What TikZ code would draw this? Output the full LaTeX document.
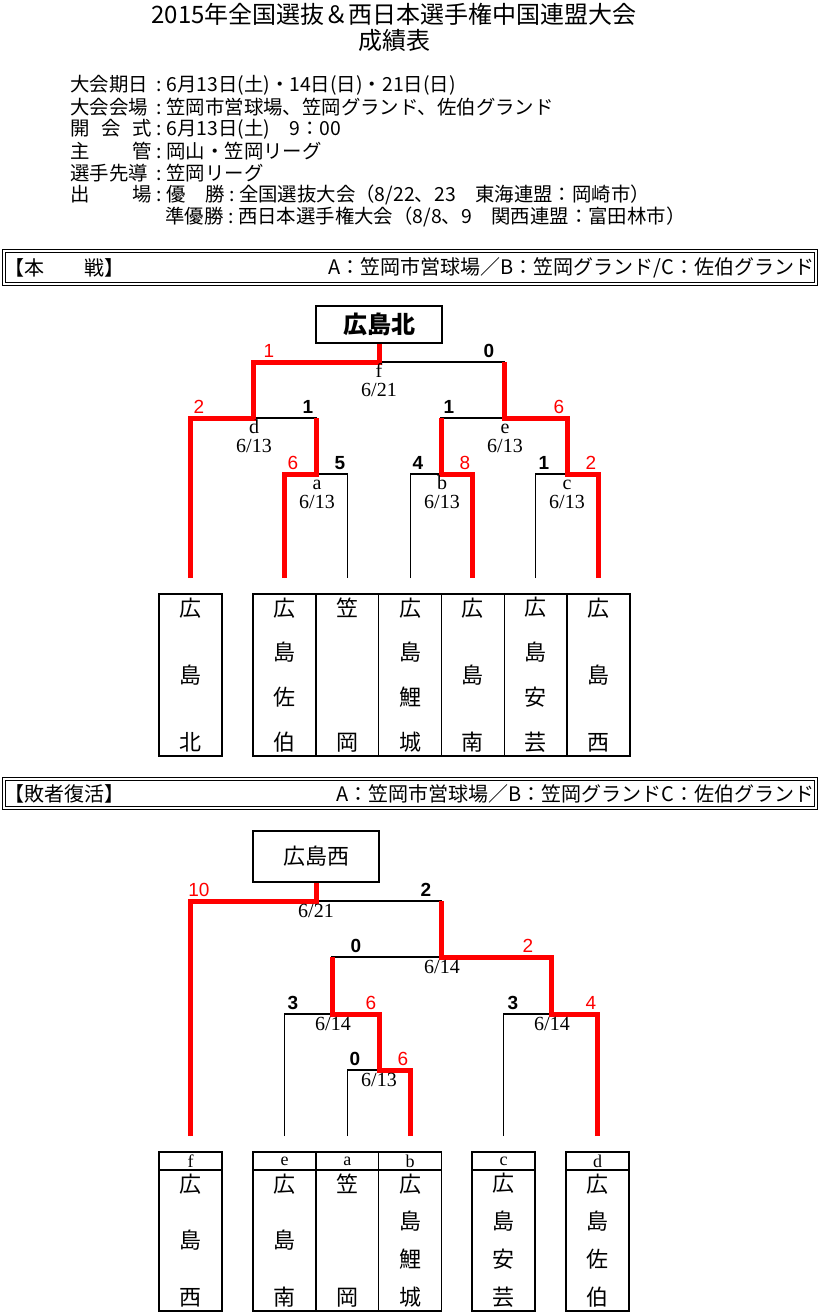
\documentclass[tikz,border=0pt]{standalone}
\usepackage{fontspec}
\setmainfont{Liberation Serif}
\setsansfont{Liberation Sans}
\newfontfamily\jp{Noto Sans CJK JP}
\usetikzlibrary{positioning}

\newcommand\lbl[1]{\makebox[4.2em][s]{#1}}
\newcommand\cln{\makebox[0.75em]{:}}
\newcommand\tnext{\par\vfill}
\newcommand\tate[2]{\parbox[c][#1][s]{1.2em}{\centering #2}}

\begin{document}
\begin{tikzpicture}[x=0.5pt,y=-0.5pt,
  title/.style={font=\jp\fontsize{12}{14}\selectfont,inner sep=0pt},
  info/.style={anchor=west,inner sep=0pt,font=\jp\fontsize{9.7}{12}\selectfont},
  bar/.style={draw,double,line width=0.7pt,double distance=0.6pt,minimum width=406pt,inner sep=0pt},
  bartext/.style={inner sep=0pt,font=\jp\fontsize{10}{12}\selectfont},
  champ box/.style={draw,line width=0.75pt,minimum width=63pt,font=\jp\fontsize{11}{13}\selectfont},
  team/.style={draw,line width=0.75pt,outer sep=0pt,inner sep=0pt,minimum width=31.4pt,font=\jp\fontsize{11}{13}\selectfont},
  head/.style={draw,line width=0.75pt,outer sep=0pt,inner sep=0pt,minimum width=31.4pt,minimum height=9pt,font=\fontsize{9}{10}\selectfont},
  bracket/.style={line width=0.6pt},
  win line/.style={red,line width=2.5pt},
  lose score/.style={anchor=base,inner sep=0pt,font=\sffamily\bfseries\fontsize{9.5}{11}\selectfont},
  win score/.style={anchor=base,inner sep=0pt,red,font=\sffamily\fontsize{9.5}{11}\selectfont},
  match label/.style={anchor=base,inner sep=0pt,font=\fontsize{10}{12}\selectfont}]

\useasboundingbox (0,0) rectangle (820,1314);

% heading
\node[title] (title) at (394,14) {2015年全国選抜＆西日本選手権中国連盟大会};
\node[title] (subtitle) at (394,40) {成績表};

\node[info] (l1) at (70,85) {\lbl{大会期日}\cln 6月13日(土)・14日(日)・21日(日)};
\node[info] (l2) at (70,107) {\lbl{大会会場}\cln 笠岡市営球場、笠岡グランド、佐伯グランド};
\node[info] (l3) at (70,129) {\lbl{開\hfill 会\hfill 式}\cln 6月13日(土)　9：00};
\node[info] (l4) at (70,151) {\lbl{主\hfill 管}\cln 岡山・笠岡リーグ};
\node[info] (l5) at (70,173) {\lbl{選手先導}\cln 笠岡リーグ};
\node[info] (l6) at (70,195) {\lbl{出\hfill 場}\cln\makebox[3em][s]{優\hfill 勝}\cln 全国選抜大会（8/22、23　東海連盟：岡崎市）};
\node[info] (l7) at (165,217) {\makebox[3em][s]{準優勝}\cln 西日本選手権大会（8/8、9　関西連盟：富田林市）};

% main tournament
\node[bar,minimum height=16.5pt] (honsen) at (410,267.5) {};
\node[bartext,anchor=west] (honsenL) at ([xshift=0.5pt]honsen.west) {【本　　戦】};
\node[bartext,anchor=east] (honsenR) at ([xshift=-1pt]honsen.east) {A：笠岡市営球場／B：笠岡グランド/C：佐伯グランド};

\node[champ box,minimum height=18.5pt,font=\jp\bfseries\fontsize{12}{14}\selectfont] (champ) at (379,324.5) {広島北};

\node[team,minimum height=81pt] (kita) at (190.5,675) {\tate{76.5pt}{広\tnext 島\tnext 北}};
\node[team,minimum height=81pt] (saeki) at (284.5,675) {\tate{76.5pt}{広\tnext 島\tnext 佐\tnext 伯}};
\node[team,minimum height=81pt,right=0pt of saeki] (kasaoka) {\tate{76.5pt}{笠\tnext 岡}};
\node[team,minimum height=81pt,right=0pt of kasaoka] (rijo) {\tate{76.5pt}{広\tnext 島\tnext 鯉\tnext 城}};
\node[team,minimum height=81pt,right=0pt of rijo] (minami) {\tate{76.5pt}{広\tnext 島\tnext 南}};
\node[team,minimum height=81pt,right=0pt of minami] (aki) {\tate{76.5pt}{広\tnext 島\tnext 安\tnext 芸}};
\node[team,minimum height=81pt,right=0pt of aki] (nishi) {\tate{76.5pt}{広\tnext 島\tnext 西}};

\foreach \t in {kita,saeki,kasaoka,rijo,minami,aki,nishi}
  \coordinate[above=8pt of \t] (\t T);

\coordinate (mf) at (379,362);
\coordinate (md) at (253,418);
\coordinate (me) at (504,418);
\coordinate (ma) at (316,474);
\coordinate (mb) at (441,474);
\coordinate (mc) at (567,474);

\draw[bracket] (kitaT) |- (md) -| (ma);
\draw[bracket] (saekiT) |- (ma) -| (kasaokaT);
\draw[bracket] (rijoT) |- (mb) -| (minamiT);
\draw[bracket] (akiT) |- (mc) -| (nishiT);
\draw[bracket] (mb) |- (me) -| (mc);
\draw[bracket] (md) |- (mf) -| (me);

\draw[win line] (kitaT) |- (md) |- (mf) -- (champ.south);
\draw[win line] (saekiT) |- (ma) -- (ma |- md);
\draw[win line] (minamiT) |- (mb) -- (mb |- me);
\draw[win line] (nishiT) |- (mc) |- (me) -- (me |- mf);

\foreach \x/\y/\s [count=\i] in {489/357.5/0,308/413.5/1,449/413.5/1,340/469.5/5,418/469.5/4,544/469.5/1}
  \node[lose score] (ls\i) at (\x,\y) {\s};
\foreach \x/\y/\s [count=\i] in {269/357.5/1,199/413.5/2,559/413.5/6,293/469.5/6,465/469.5/8,591/469.5/2}
  \node[win score] (ws\i) at (\x,\y) {\s};
\foreach \x/\y/\t [count=\i] in {379/377.5/f,379/396.5/{6/21},254/433.5/d,254/452.5/{6/13},505/433.5/e,505/452.5/{6/13},317/489.5/a,317/508.5/{6/13},442/489.5/b,442/508.5/{6/13},567/489.5/c,567/508.5/{6/13}}
  \node[match label] (ml\i) at (\x,\y) {\t};

% consolation round
\node[bar,minimum height=14.5pt] (haisha) at (410,793.5) {};
\node[bartext,anchor=west] (haishaL) at ([xshift=0.5pt]haisha.west) {【敗者復活】};
\node[bartext,anchor=east] (haishaR) at ([xshift=-1pt]haisha.east) {A：笠岡市営球場／B：笠岡グランドC：佐伯グランド};

\node[champ box,minimum height=25.5pt] (champ2) at (316,856.5) {広島西};

\node[head] (hf) at (190.5,1161) {f};
\node[head] (he) at (284.5,1161) {e};
\node[head,right=0pt of he] (ha) {a};
\node[head,right=0pt of ha] (hb) {b};
\node[head] (hc) at (503.5,1161) {c};
\node[head] (hd) at (597.5,1161) {d};
\node[team,minimum height=70.5pt,below=0pt of hf] (rnishi) {\tate{66pt}{広\tnext 島\tnext 西}};
\node[team,minimum height=70.5pt,below=0pt of he] (rminami) {\tate{66pt}{広\tnext 島\tnext 南}};
\node[team,minimum height=70.5pt,below=0pt of ha] (rkasaoka) {\tate{66pt}{笠\tnext 岡}};
\node[team,minimum height=70.5pt,below=0pt of hb] (rrijo) {\tate{66pt}{広\tnext 島\tnext 鯉\tnext 城}};
\node[team,minimum height=70.5pt,below=0pt of hc] (raki) {\tate{66pt}{広\tnext 島\tnext 安\tnext 芸}};
\node[team,minimum height=70.5pt,below=0pt of hd] (rsaeki) {\tate{66pt}{広\tnext 島\tnext 佐\tnext 伯}};

\foreach \h/\t in {hf/rnishi,he/rminami,ha/rkasaoka,hb/rrijo,hc/raki,hd/rsaeki}
  \coordinate[above=8pt of \h] (\t T);

\coordinate (r1) at (316,901);
\coordinate (r2) at (441,957);
\coordinate (r3) at (332,1014);
\coordinate (r4) at (379,1070);
\coordinate (r5) at (551,1014);

\draw[bracket] (rnishiT) |- (r1) -| (r2);
\draw[bracket] (r3) |- (r2) -| (r5);
\draw[bracket] (rminamiT) |- (r3) -| (r4);
\draw[bracket] (rkasaokaT) |- (r4) -| (rrijoT);
\draw[bracket] (rakiT) |- (r5) -| (rsaekiT);

\draw[win line] (rnishiT) |- (r1) -- (champ2.south);
\draw[win line] (rrijoT) |- (r4) |- (r3) -- (r3 |- r2);
\draw[win line] (rsaekiT) |- (r5) |- (r2) -- (r2 |- r1);

\foreach \x/\y/\s [count=\i] in {426/896.5/2,356/952.5/0,293/1009.5/3,355/1065.5/0,513/1009.5/3}
  \node[lose score] (rls\i) at (\x,\y) {\s};
\foreach \x/\y/\s [count=\i] in {199/896.5/10,528/952.5/2,371/1009.5/6,403/1065.5/6,591/1009.5/4}
  \node[win score] (rws\i) at (\x,\y) {\s};
\foreach \x/\y/\t [count=\i] in {316/917.5/{6/21},442/973.5/{6/14},333/1030.5/{6/14},379/1086.5/{6/13},552/1030.5/{6/14}}
  \node[match label] (rl\i) at (\x,\y) {\t};

\end{tikzpicture}
\end{document}
